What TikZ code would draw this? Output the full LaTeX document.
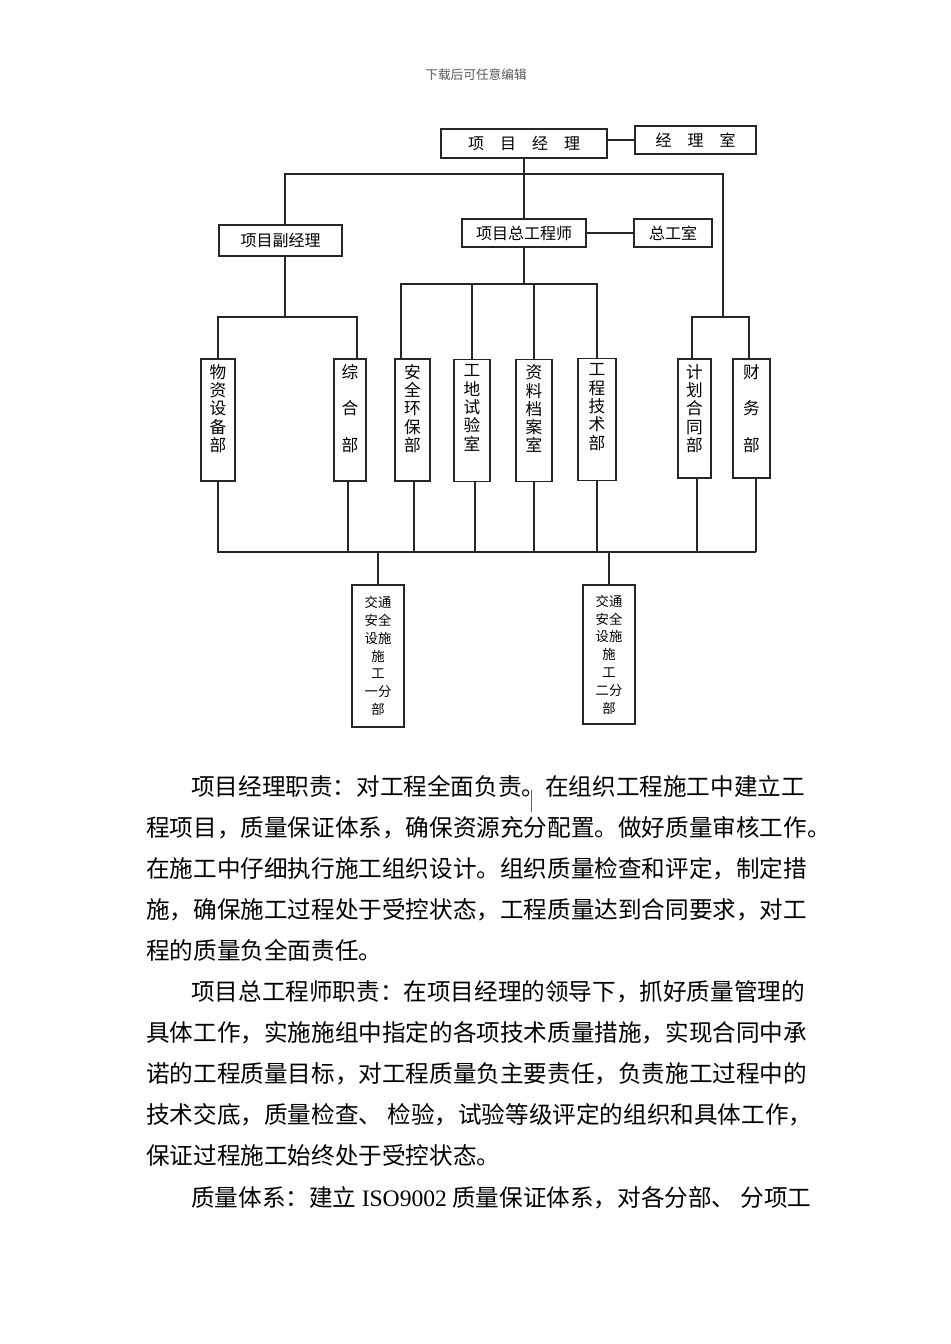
\documentclass[tikz,border=0pt]{standalone}
\usepackage{fontspec}
\setmainfont{Noto Sans CJK SC}
\newfontfamily\isofont{Liberation Serif}
\usetikzlibrary{calc}
\newlength{\pxu}
\setlength{\pxu}{0.75pt}
\newcommand{\colbox}[2]{\parbox[t][#1\pxu][t]{1.4em}{\centering\vspace*{4pt}#2}}

\begin{document}
\begin{tikzpicture}[x=0.75pt, y=-0.75pt]
%\draw[very thin, color = gray](0, 0) grid (950, 1344);
\tikzstyle{block} = [draw = black!85, line width = 1.15pt, rectangle, inner sep = 0,
  font = \fontsize{12pt}{14pt}\selectfont];
\tikzstyle{dept} = [block, font = \fontsize{12.5pt}{13.7pt}\selectfont];
\tikzstyle{subbox} = [block, align = center, font = \fontsize{10pt}{13.35pt}\selectfont];
\tikzstyle{line} = [draw = black!85, line width = 1.2pt]
\tikzstyle{para} = [anchor = base west, inner sep = 0, font = \fontsize{17.7pt}{30.9pt}\selectfont]
\path [fill = white] (0, 0) rectangle (950, 1344);
\useasboundingbox (0, 0) rectangle (950, 1344);
\node [anchor = base, inner sep = 0, text = black!65, font = \fontsize{9.5pt}{11pt}\selectfont] (head) at (476, 80) {下载后可任意编辑};
% chart
\node [block, minimum width = 166*\pxu, minimum height = 29*\pxu] at (524, 143.5) (xmjl) {项\quad 目\quad 经\quad 理};
\node [block, minimum width = 121*\pxu, minimum height = 28*\pxu] at (695.5, 140) (jls) {经\quad 理\quad 室};
\node [block, minimum width = 123*\pxu, minimum height = 31*\pxu] at (280.5, 240.5) (fjl) {项目副经理};
\node [block, minimum width = 124*\pxu, minimum height = 28*\pxu] at (524, 233) (zgcs) {项目总工程师};
\node [block, minimum width = 78*\pxu, minimum height = 28*\pxu] at (673, 233) (zgs) {总工室};
\node [dept, minimum width = 34*\pxu] at (218, 420) (wzsb) {\colbox{122}{物\\资\\设\\备\\部}};
\node [dept, minimum width = 32*\pxu] at (350, 420) (zhb) {\colbox{122}{综\\[\baselineskip]合\\[\baselineskip]部}};
\node [dept, minimum width = 35*\pxu] at (412.5, 420) (aqhb) {\colbox{122}{安\\全\\环\\保\\部}};
\node [dept, minimum width = 36*\pxu] at (472, 420.5) (gdsy) {\colbox{122}{工\\地\\试\\验\\室}};
\node [dept, minimum width = 36*\pxu] at (534, 420.5) (zlda) {\colbox{122}{资\\料\\档\\案\\室}};
\node [dept, minimum width = 38*\pxu] at (597, 419.5) (gcjs) {\colbox{122}{工\\程\\技\\术\\部}};
\node [dept, minimum width = 33*\pxu] at (694.5, 418.5) (jhht) {\colbox{119}{计\\划\\合\\同\\部}};
\node [dept, minimum width = 37*\pxu] at (751.5, 418.5) (cwb) {\colbox{119}{财\\[\baselineskip]务\\[\baselineskip]部}};
\node [subbox, minimum width = 52*\pxu, minimum height = 142*\pxu] at (378, 656) (fb1) {交通\\安全\\设施\\施\\工\\一分\\部};
\node [subbox, minimum width = 52*\pxu, minimum height = 139*\pxu] at (609, 654.5) (fb2) {交通\\安全\\设施\\施\\工\\二分\\部};
\coordinate (tl) at (285, 174);
\coordinate (tr) at (723, 174);
\coordinate (lb) at (285, 317);
\coordinate (rb) at (723, 317);
\coordinate (mb) at (524, 284);
\coordinate (bl) at (218, 552);
\coordinate (br) at (756, 552);
\path [line] (xmjl.east |- jls.west) -- (jls.west);
\path [line] (xmjl.south) -- (xmjl.south |- zgcs.north);
\path [line] (fjl.north -| tl) -- (tl) -- (tr) -- (rb);
\path [line] (zgcs.east) -- (zgs.west);
\path [line] (fjl.south -| lb) -- (lb);
\path [line] (wzsb.north) |- (lb) -| ($(zhb.north) + (7, 0)$);
\path [line] (zgcs.south) -- (mb);
\path [line] ($(aqhb.north) + (-11.5, 0)$) |- (mb) -| (gcjs.north);
\path [line] (gdsy.north) -- (gdsy.north |- mb);
\path [line] (zlda.north) -- (zlda.north |- mb);
\path [line] ($(jhht.north) + (-2.5, 0)$) |- (rb) -| ($(cwb.north) + (-2.5, 0)$);
\path [line] (wzsb.south) -- (bl) -- (br);
\path [line] ($(zhb.south) + (-2, 0)$) -- ($(zhb.south |- bl) + (-2, 0)$);
\path [line] ($(aqhb.south) + (1.5, 0)$) -- ($(aqhb.south |- bl) + (1.5, 0)$);
\path [line] ($(gdsy.south) + (3, 0)$) -- ($(gdsy.south |- bl) + (3, 0)$);
\path [line] (zlda.south) -- (zlda.south |- bl);
\path [line] (gcjs.south) -- (gcjs.south |- bl);
\path [line] ($(jhht.south) + (2.5, 0)$) -- ($(jhht.south |- bl) + (2.5, 0)$);
\path [line] (cwb.south -| br) -- (br);
\path [line] (fb1.north) -- (fb1.north |- bl);
\path [line] (fb2.north) -- (fb2.north |- bl);
% text below the chart
\node [para] at (191, 795) (jl1) {项目经理职责：对工程全面负责。在组织工程施工中建立工};
\node [para] at (146, 836.1) (jl2) {程项目，质量保证体系，确保资源充分配置。做好质量审核工作。};
\node [para] at (146, 877.2) (jl3) {在施工中仔细执行施工组织设计。组织质量检查和评定，制定措};
\node [para] at (146, 918.3) (jl4) {施，确保施工过程处于受控状态，工程质量达到合同要求，对工};
\node [para] at (146, 959.4) (jl5) {程的质量负全面责任。};
\node [para] at (191, 1000.5) (gc1) {项目总工程师职责：在项目经理的领导下，抓好质量管理的};
\node [para] at (146, 1041.6) (gc2) {具体工作，实施施组中指定的各项技术质量措施，实现合同中承};
\node [para] at (146, 1082.7) (gc3) {诺的工程质量目标，对工程质量负主要责任，负责施工过程中的};
\node [para] at (146, 1123.8) (gc4) {技术交底，质量检查、 检验，试验等级评定的组织和具体工作，};
\node [para] at (146, 1164.9) (gc5) {保证过程施工始终处于受控状态。};
\node [para] at (191, 1206) (tx1) {质量体系：建立 {\isofont ISO9002} 质量保证体系，对各分部、 分项工};
\draw [black!60, line width = 0.6pt] (531, 790) -- (531, 812);
\end{tikzpicture}
\end{document}
